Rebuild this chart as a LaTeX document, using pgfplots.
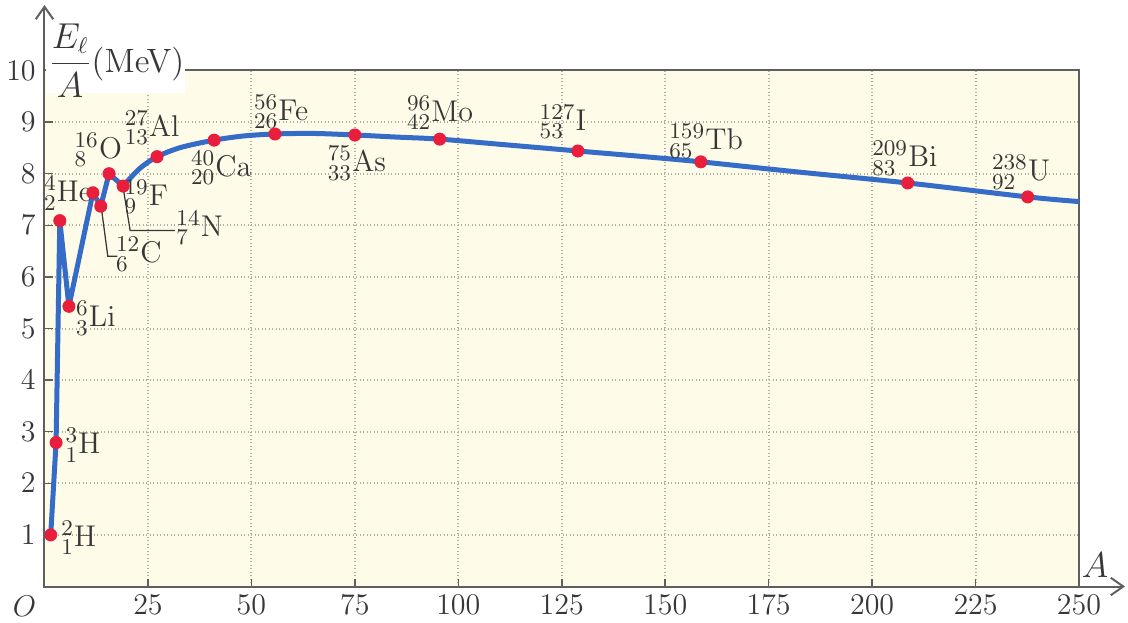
\documentclass[border=0pt]{standalone}
\usepackage{pgfplots}
\pgfplotsset{compat=1.18}
\usepackage{amsmath}
\usetikzlibrary{arrows.meta}
\definecolor{bg}{RGB}{254,251,232}
\definecolor{curve}{RGB}{52,108,200}
\definecolor{dot}{RGB}{232,30,60}
\definecolor{frame}{RGB}{95,95,95}
\definecolor{gridc}{RGB}{175,175,165}
\definecolor{txt}{RGB}{55,55,55}
\begin{document}
\begin{tikzpicture}
\useasboundingbox (-17.8pt,-14.2pt) rectangle (433.4pt,234.6pt);
\begin{axis}[at={(0pt,0pt)}, anchor=south west, scale only axis,
  width=413.8pt, height=206.4pt,
  xmin=0, xmax=250, ymin=0, ymax=10,
  xtick={25,50,...,250}, ytick={1,...,10},
  grid=major, major grid style={gridc, densely dotted, line width=0.8pt},
  axis line style={frame, line width=0.8pt},
  tick align=inside, xtick pos=bottom, ytick pos=left,
  major tick length=3.2pt, tick style={frame, line width=0.6pt},
  axis background/.style={fill=bg},
  ticklabel style={font=\large, text=txt},
  clip=false]
\addplot[curve, line width=2pt, line join=round] coordinates {
(1.5,1.0) (2.8,2.79) (3.7,7.09) (5.9,5.43) (11.7,7.63) (13.6,7.37) (15.6,8.0) (19,7.76)};
\addplot[curve, line width=2pt, smooth, line join=round] coordinates {
(19,7.76) (23,8.10) (27.2,8.33) (33,8.51) (41,8.65) (48,8.73) (55.7,8.77) (65,8.78) (75,8.75) (85,8.71) (95.5,8.67) (110,8.57) (128.9,8.44) (145,8.33) (158.6,8.23) (180,8.05) (208.6,7.82) (237.6,7.55) (250,7.46)};
\addplot[only marks, mark=*, mark size=2.4pt, mark options={fill=dot, draw=dot}] coordinates {
(1.5,1.0) (2.8,2.79) (3.7,7.09) (5.9,5.43) (11.7,7.63) (13.6,7.37) (15.6,8.0) (19,7.76)
(27.2,8.33) (41,8.65) (55.7,8.77) (75,8.75) (95.5,8.67) (128.9,8.44) (158.6,8.23) (208.6,7.82) (237.6,7.55)};
\draw[txt, line width=0.5pt] (axis cs:13.8,7.3) -- (axis cs:15.3,6.4) -- (axis cs:17.6,6.4);
\draw[txt, line width=0.5pt] (axis cs:19.1,7.68) -- (axis cs:20.7,6.9) -- (axis cs:31.5,6.9);
\begin{scope}[every node/.style={font=\fontsize{13}{15}\selectfont, text=txt, inner sep=0pt}]
\node at (axis cs:8.3,0.94) {${}^{2}_{1}\mathrm{H}$};
\node at (axis cs:9.3,2.74) {${}^{3}_{1}\mathrm{H}$};
\node at (axis cs:5.7,7.62) {${}^{4}_{2}\mathrm{He}$};
\node at (axis cs:12.4,5.2) {${}^{6}_{3}\mathrm{Li}$};
\node at (axis cs:13.0,8.46) {${}^{16}_{8}\mathrm{O}$};
\node at (axis cs:24.6,7.55) {${}^{19}_{9}\mathrm{F}$};
\node at (axis cs:37.5,6.95) {${}^{14}_{7}\mathrm{N}$};
\node at (axis cs:22.8,6.44) {${}^{12}_{6}\mathrm{C}$};
\node at (axis cs:26.0,8.89) {${}^{27}_{13}\mathrm{Al}$};
\node at (axis cs:42.7,8.11) {${}^{40}_{20}\mathrm{Ca}$};
\node at (axis cs:57.2,9.2) {${}^{56}_{26}\mathrm{Fe}$};
\node at (axis cs:75.5,8.2) {${}^{75}_{33}\mathrm{As}$};
\node at (axis cs:95.6,9.18) {${}^{96}_{42}\mathrm{Mo}$};
\node at (axis cs:125.3,9.0) {${}^{127}_{53}\mathrm{I}$};
\node at (axis cs:159.9,8.63) {${}^{159}_{65}\mathrm{Tb}$};
\node at (axis cs:207.9,8.3) {${}^{209}_{83}\mathrm{Bi}$};
\node at (axis cs:236,8.03) {${}^{238}_{92}\mathrm{U}$};
\end{scope}
\end{axis}
\fill[white] (0.6pt,197.4pt) rectangle (56.2pt,236pt);
\node[anchor=west, inner sep=0pt, text=txt] at (1.5pt,210.5pt) {\fontsize{13.5}{15}\selectfont $\dfrac{E_\ell}{A}$(MeV)};
\draw[frame, line width=0.8pt, -{Straight Barb[length=5pt, width=7pt]}] (0,0) -- (0,232.6pt);
\draw[frame, line width=0.8pt, -{Straight Barb[length=5pt, width=7pt]}] (0,0) -- (432.2pt,0);
\node[text=txt] at (420.2pt,8.5pt) {\Large $A$};
\node[text=txt] at (-8pt,-7.8pt) {\large $O$};
\end{tikzpicture}
\end{document}
